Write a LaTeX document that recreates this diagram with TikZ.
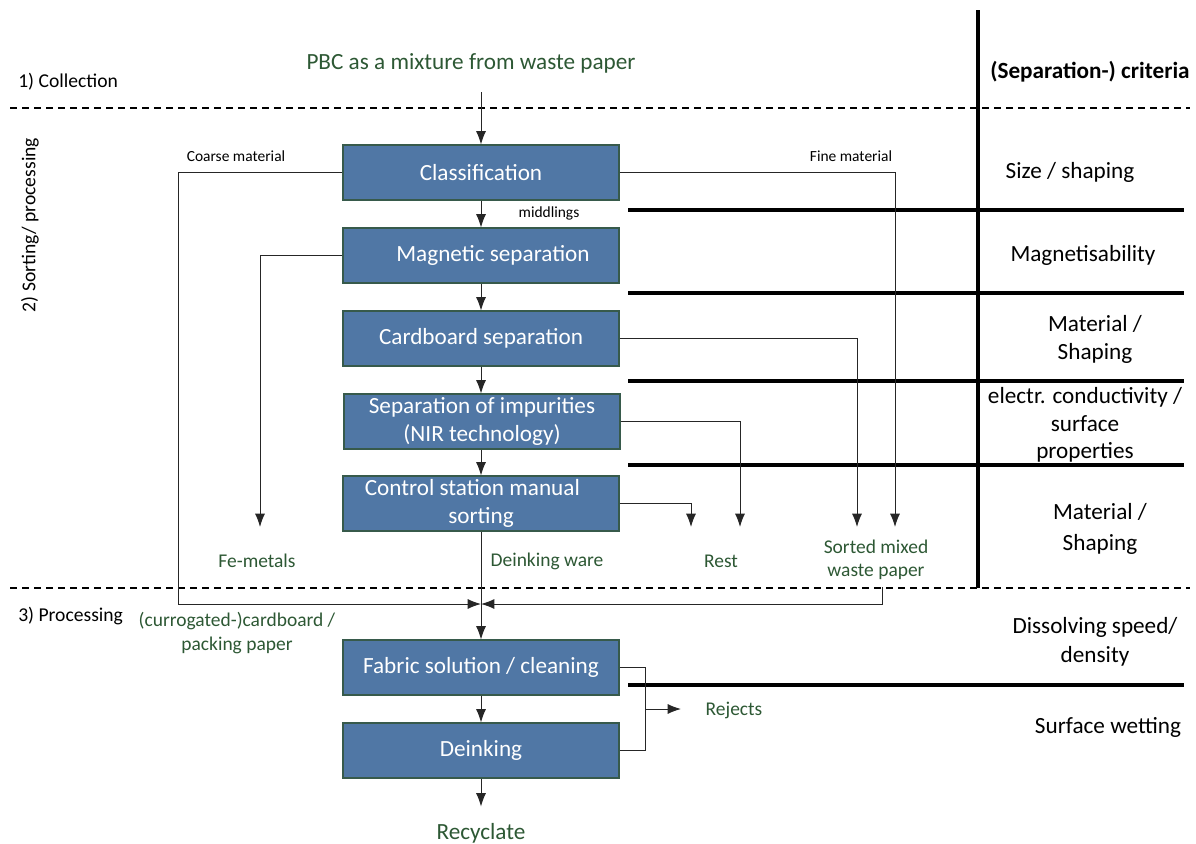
\documentclass[tikz,border=0pt]{standalone}
\usepackage{fontspec}
\setmainfont{Carlito}
\usetikzlibrary{arrows.meta}
\definecolor{boxblue}{RGB}{80,119,165}
\definecolor{boxedge}{RGB}{55,90,75}
\definecolor{lblgreen}{RGB}{45,88,52}
\begin{document}
\begin{tikzpicture}[x=0.75pt,y=-0.75pt,
  proc/.style={draw=boxedge, line width=0.8pt, fill=boxblue, text=white, minimum width=207pt, minimum height=41.25pt, inner sep=0pt, font=\fontsize{17.4}{21}\selectfont, align=center},
  conn/.style={draw=black!85, line width=0.75pt},
  arr/.style={conn, -{Latex[length=10pt,width=7.5pt]}},
  green/.style={text=lblgreen, font=\fontsize{14.6}{18}\selectfont, align=center, inner sep=0pt},
  bigtxt/.style={font=\fontsize{17.4}{21}\selectfont, align=center, inner sep=0pt},
  small/.style={font=\fontsize{11.6}{14}\selectfont, inner sep=0pt},
  phase/.style={font=\fontsize{14.7}{18}\selectfont, inner sep=0pt},
  crit/.style={font=\fontsize{17.4}{21}\selectfont, align=center, inner sep=0pt},
  sep/.style={line width=2.7pt, draw=black},
  dsh/.style={line width=1.2pt, dash pattern=on 5.5pt off 3.5pt}]
\useasboundingbox (0,0) rectangle (1196,843);
% phase separators
\draw[dsh] (10,108) -- (1190,108);
\draw[dsh] (10,588) -- (1190,588);
\draw[sep, line width=2.4pt] (978,10) -- (978,588);
% criteria separators
\draw[sep] (628,210) -- (1184,210);
\draw[sep] (628,293) -- (1184,293);
\draw[sep] (628,381) -- (1184,381);
\draw[sep, line width=3.2pt] (628,465) -- (1184,465);
\draw[sep] (628,685) -- (1184,685);
% phase labels
\node[phase, anchor=west] (p1) at (18,82) {1) Collection};
\node[phase, rotate=90] (p2) at (30,225) {2) Sorting/ processing};
\node[phase, anchor=west] (p3) at (18,616) {3) Processing};
\node[crit, font=\bfseries\fontsize{17.4}{21}\selectfont] (hd) at (1090,72) {(Separation-) criteria};
% criteria
\node[crit] (c1) at (1070,172) {Size / shaping};
\node[crit] (c2) at (1083,255) {Magnetisability};
\node[crit] (c3) at (1095,339) {Material /\\Shaping};
\node[crit, font=\fontsize{17.4}{20.6}\selectfont] (c4) at (1085,425) {electr. conductivity /\\surface\\properties};
\node[crit, font=\fontsize{17.4}{23}\selectfont] (c5) at (1100,529) {Material /\\Shaping};
\node[crit, font=\fontsize{17.4}{22}\selectfont] (c6) at (1095,642) {Dissolving speed/\\density};
\node[crit] (c7) at (1108,727) {Surface wetting};
% input/output
\node[bigtxt, text=lblgreen] (in) at (471,63) {PBC as a mixture from waste paper};
\node[bigtxt, text=lblgreen] (out) at (481,833) {Recyclate};
% process boxes
\node[proc] (cls) at (481,172.5) {Classification};
\node[proc] (mag) at (481,255.5) {\hspace*{18pt}Magnetic separation};
\node[proc] (card) at (481,338.5) {Cardboard separation};
\node[proc, font=\fontsize{17.4}{21}\selectfont] (imp) at (482,421.5) {Separation of impurities\\(NIR technology)};
\node[proc] (ctrl) at (481,503.5) {Control station manual\hspace*{13pt}\\sorting};
\node[proc] (fab) at (481,667.5) {Fabric solution / cleaning};
\node[proc] (dei) at (481,750.5) {Deinking};
% labels
\node[small] (lcoarse) at (236,156) {Coarse material};
\node[small] (lfine) at (851,156) {Fine material};
\node[small] (lmid) at (549,213) {middlings};
\node[green] (fe) at (257,561) {Fe-metals};
\node[green] (dw) at (547,561) {Deinking ware};
\node[green] (rest) at (721,561) {Rest};
\node[green, font=\fontsize{14.6}{17.5}\selectfont] (smw) at (876,560) {Sorted mixed\\waste paper};
\node[green, font=\fontsize{14.6}{18}\selectfont] (cb) at (237,633) {(currogated-)cardboard /\\packing paper};
\node[green] (rej) at (734,710) {Rejects};
% coordinates
\coordinate (junc) at (481,604);
\coordinate (cL) at (178,604);
\coordinate (fineEnd) at (895,527);
\coordinate (feEnd) at (260,527);
\coordinate (cardEnd) at (857,527);
\coordinate (impEnd) at (740,527);
\coordinate (ctrlEnd) at (691,527);
\coordinate (smwTop) at (882,587);
\coordinate (rejA) at (645,667.5);
\coordinate (rejB) at (645,750.5);
\coordinate (rejM) at (645,709);
\coordinate (rejEnd) at (681,709);
\coordinate (inTop) at (481,92);
% main flow
\draw[arr] (inTop) -- (cls.north);
\draw[arr] (cls) -- (mag);
\draw[arr] (mag) -- (card);
\draw[arr] (card) -- (imp.north -| card.south);
\draw[arr] (imp.south -| ctrl.north) -- (ctrl);
\draw[arr] (ctrl) -- (fab);
\draw[arr] (fab) -- (dei);
\draw[arr] (dei.south) -- ++(0,28);
% side streams
\draw[arr] (cls.west) -| (cL) -- (junc);
\draw[arr] (cls.east) -| (fineEnd);
\draw[arr] (mag.west) -| (feEnd);
\draw[arr] (card.east) -| (cardEnd);
\draw[arr] (imp.east) -| (impEnd);
\draw[arr] (ctrl.east) -| (ctrlEnd);
\draw[arr] (smwTop) |- (junc);
\draw[conn] (fab.east) -- (rejA) -- (rejB) -- (dei.east);
\draw[arr] (rejM) -- (rejEnd);
\end{tikzpicture}
\end{document}
